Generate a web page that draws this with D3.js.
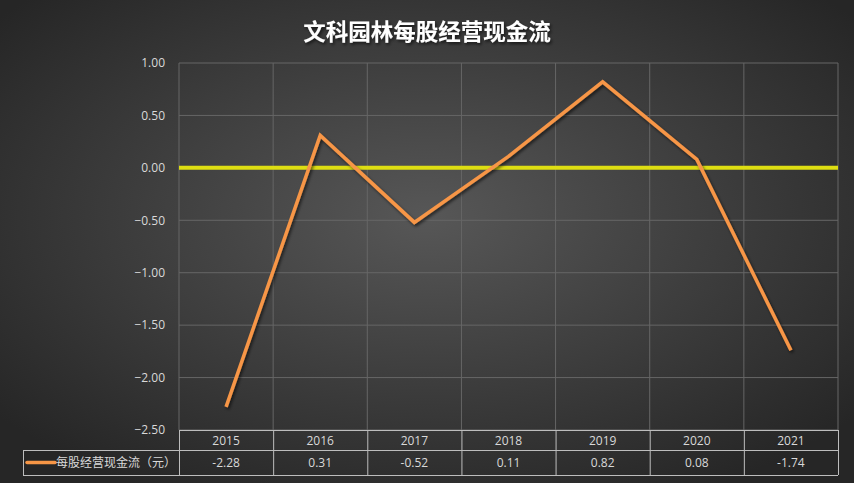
<!DOCTYPE html>
<html><head><meta charset="utf-8">
<script src="https://cdn.jsdelivr.net/npm/d3@7"></script>
<style>
html,body{margin:0;padding:0;background:#333;}
svg{display:block;}
text{font-family:"Open Sans","Noto Sans CJK SC",sans-serif;}
</style></head>
<body>
<svg id="c" width="854" height="483"></svg>
<script>
const title = "文科园林每股经营现金流";
const seriesName = "每股经营现金流（元）";
const years = ["2015","2016","2017","2018","2019","2020","2021"];
const values = [-2.28, 0.31, -0.52, 0.11, 0.82, 0.08, -1.74];
const yTicks = [1.0, 0.5, 0.0, -0.5, -1.0, -1.5, -2.0, -2.5];

const W = 854, H = 483;
const L = 179, R = 838, T = 63, B = 430;
const svg = d3.select("#c");
const defs = svg.append("defs");
const rg = defs.append("radialGradient").attr("id","bg").attr("cx","50%").attr("cy","45%").attr("r","65%");
rg.append("stop").attr("offset","0%").attr("stop-color","#575757");
rg.append("stop").attr("offset","100%").attr("stop-color","#262626");
const f = defs.append("filter").attr("id","sh").attr("x","-10%").attr("y","-10%").attr("width","120%").attr("height","130%");
f.append("feDropShadow").attr("dx",1.5).attr("dy",2).attr("stdDeviation",1.5).attr("flood-color","#000").attr("flood-opacity",0.6);

svg.append("rect").attr("width",W).attr("height",H).attr("fill","url(#bg)");

svg.append("text").attr("x",427).attr("y",40).attr("text-anchor","middle")
  .attr("fill","#fff").attr("font-size",22.5).attr("font-weight","bold")
  .attr("font-family","'Noto Sans CJK SC',sans-serif").attr("filter","url(#sh)").text(title);

const x = d3.scaleBand().domain(years).range([L,R]);
const y = d3.scaleLinear().domain([-2.5,1.0]).range([B,T]);

// grid
const g = svg.append("g");
g.selectAll(".hg").data(yTicks).join("line")
  .attr("x1",L).attr("x2",R).attr("y1",d=>y(d)).attr("y2",d=>y(d))
  .attr("stroke","#666").attr("stroke-width",1);
const bounds = years.map(d=>x(d)).concat([R]);
g.selectAll(".vg").data(bounds).join("line")
  .attr("x1",d=>d).attr("x2",d=>d).attr("y1",T).attr("y2",B)
  .attr("stroke","#666").attr("stroke-width",1);

// y axis labels
const yAxis = d3.axisLeft(y).tickValues(yTicks).tickFormat(d3.format(".2f")).tickSize(0).tickPadding(0);
const ya = svg.append("g").attr("transform",`translate(${L-14},0)`).call(yAxis);
ya.select(".domain").remove();
ya.selectAll("text").attr("fill","#d9d9d9").attr("font-size",12).attr("font-family","'Open Sans',sans-serif");

// zero line
svg.append("line").attr("x1",L).attr("x2",R).attr("y1",y(0)).attr("y2",y(0))
  .attr("stroke","#dede12").attr("stroke-width",4);

// series line
const line = d3.line().x((d,i)=>x(years[i])+x.bandwidth()/2).y(d=>y(d));
svg.append("path").datum(values).attr("d",line).attr("fill","none")
  .attr("stroke","#f79646").attr("stroke-width",3.5).attr("stroke-linejoin","miter")
  .attr("filter","url(#sh)");

// data table
const r0 = 430, r1 = 450, r2 = 475, legL = 23;
const tg = svg.append("g").attr("stroke","#bdbdbd").attr("stroke-width",1).attr("fill","none");
tg.append("line").attr("x1",L).attr("x2",R).attr("y1",r0+0.5).attr("y2",r0+0.5);
tg.append("line").attr("x1",legL).attr("x2",R).attr("y1",r1+0.5).attr("y2",r1+0.5);
tg.append("line").attr("x1",legL).attr("x2",R).attr("y1",r2+0.5).attr("y2",r2+0.5);
tg.append("line").attr("x1",legL+0.5).attr("x2",legL+0.5).attr("y1",r1).attr("y2",r2);
tg.selectAll(".tv").data(bounds).join("line")
  .attr("x1",d=>d+0.5).attr("x2",d=>d+0.5).attr("y1",r0).attr("y2",r2);

svg.selectAll(".yr").data(years).join("text")
  .attr("x",d=>x(d)+x.bandwidth()/2).attr("y",(r0+r1)/2+4.5).attr("text-anchor","middle")
  .attr("fill","#d9d9d9").attr("font-size",12).text(d=>d);
svg.selectAll(".vl").data(values).join("text")
  .attr("x",(d,i)=>x(years[i])+x.bandwidth()/2).attr("y",(r1+r2)/2+4.5).attr("text-anchor","middle")
  .attr("fill","#d9d9d9").attr("font-size",12).text(d=>d.toFixed(2));

svg.append("line").attr("x1",27).attr("x2",55).attr("y1",(r1+r2)/2).attr("y2",(r1+r2)/2)
  .attr("stroke","#f79646").attr("stroke-width",3.5).attr("stroke-linecap","round");
svg.append("text").attr("x",56).attr("y",(r1+r2)/2+4.5).attr("fill","#d9d9d9").attr("font-size",12)
  .attr("font-family","'Noto Sans CJK SC',sans-serif").text(seriesName);
</script>
</body></html>
